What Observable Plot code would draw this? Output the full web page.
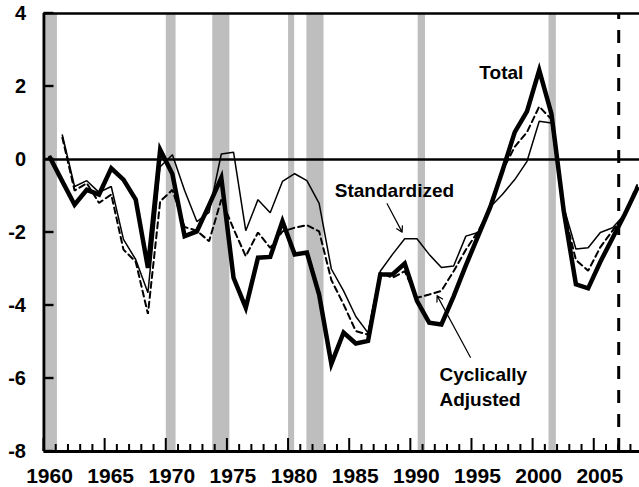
<!DOCTYPE html>
<html><head><meta charset="utf-8">
<script src="https://cdn.jsdelivr.net/npm/d3@7"></script>
<script src="https://cdn.jsdelivr.net/npm/@observablehq/plot@0.6"></script>
<style>body{margin:0;background:#fff}</style>
</head><body><div id="chart"></div>
<script>
const years = d3.range(1960, 2009);
const total = [0.05,-0.6,-1.24,-0.83,-0.96,-0.24,-0.55,-1.1,-2.97,0.27,
  -0.4,-2.1,-1.97,-1.25,-0.5,-3.24,-4.06,-2.69,-2.67,-1.69,
  -2.6,-2.55,-3.7,-5.6,-4.74,-5.04,-4.97,-3.15,-3.15,-2.85,
  -3.87,-4.47,-4.52,-3.75,-2.9,-2.1,-1.3,-0.3,0.75,1.32,
  2.45,1.25,-1.4,-3.42,-3.53,-2.8,-2.15,-1.5,-0.8];
const standardized = [null,0.67,-0.74,-0.58,-0.9,-0.74,-2.19,-2.74,-3.65,-0.2,
  0.13,-0.85,-1.7,-1.45,0.15,0.2,-1.95,-1.1,-1.46,-0.6,
  -0.39,-0.58,-1.2,-3.0,-3.6,-4.3,-4.75,-3.06,-2.6,-2.17,
  -2.17,-2.6,-2.96,-2.92,-2.1,-2.0,-1.3,-0.95,-0.55,-0.05,
  1.05,1.0,-1.3,-2.45,-2.42,-2.0,-1.87,-1.5,-0.75];
const cyclicallyAdjusted = [null,0.6,-0.85,-0.65,-1.19,-0.96,-2.47,-2.8,-4.23,-1.15,
  -0.83,-1.85,-1.95,-2.24,-1.1,-1.9,-2.65,-2.0,-2.42,-1.97,
  -1.87,-1.8,-1.97,-3.3,-3.97,-4.7,-4.8,-3.1,-3.24,-3.06,
  -3.79,-3.7,-3.6,-3.06,-2.47,-1.97,-1.33,-0.3,0.35,0.75,
  1.45,1.1,-1.4,-2.75,-3.05,-2.4,-1.95,-1.5,-0.7];
const recessionStart = [1960.2, 1970.0, 1973.8, 1980.0, 1981.5, 1990.6, 2001.3];
const recessionEnd   = [1961.1, 1970.8, 1975.2, 1980.5, 1982.9, 1991.2, 2001.9];
const yTicks = [-8, -6, -4, -2, 0, 2, 4];
const xTickLabels = [1960, 1965, 1970, 1975, 1980, 1985, 1990, 1995, 2000, 2005];
const majorTickYears = xTickLabels;
const minorTickYears = d3.range(1960, 2009).filter(y => y % 5 !== 0);
const projectionStart = 2007;
const seriesLabels = ["Total", "Standardized", "Cyclically\nAdjusted"];

const rows = years.map((year, i) => ({
  year, total: total[i], standardized: standardized[i], cyclicallyAdjusted: cyclicallyAdjusted[i]
}));
const recessions = recessionStart.map((s, i) => ({start: s, end: recessionEnd[i]}));
const mid = d => d.year + 0.5;
const font = "'Liberation Sans', Arial, sans-serif";

const W = 639, H = 487, mL = 43.5, mR = 0, mT = 13, mB = 36;
const xDomain = [1960, 2008.7], yDomain = [-8, 4];
const plotW = W - mL - mR, plotH = H - mT - mB;
// pixel sizes converted to data units (for tick marks drawn as thin rects)
const yPerPx = (yDomain[1] - yDomain[0]) / plotH;
const xPerPx = (xDomain[1] - xDomain[0]) / plotW;

const chart = Plot.plot({
  width: W, height: H,
  marginLeft: mL, marginRight: mR, marginTop: mT, marginBottom: mB,
  style: {fontFamily: font, background: "#fff"},
  x: {domain: xDomain},
  y: {domain: yDomain},
  marks: [
    Plot.rect(recessions, {x1: "start", x2: "end", y1: yDomain[0], y2: yDomain[1], fill: "#bebebe"}),
    Plot.ruleY([0], {stroke: "black", strokeWidth: 2.3}),
    Plot.ruleY([yDomain[1]], {stroke: "black", strokeWidth: 2.3}),
    Plot.ruleX([projectionStart], {y1: yDomain[0], y2: yDomain[1], stroke: "black", strokeWidth: 3, strokeDasharray: "13,11"}),
    Plot.line(rows, {x: mid, y: "standardized", stroke: "black", strokeWidth: 1.5, strokeLinejoin: "miter"}),
    Plot.line(rows, {x: mid, y: "cyclicallyAdjusted", stroke: "black", strokeWidth: 2, strokeDasharray: "6,4", strokeLinejoin: "miter"}),
    Plot.line(rows, {x: mid, y: "total", stroke: "black", strokeWidth: 4.5, strokeLinejoin: "miter", strokeMiterlimit: 6}),
    Plot.ruleX([xDomain[0]], {y1: yDomain[0], y2: yDomain[1], stroke: "black", strokeWidth: 3}),
    Plot.ruleY([yDomain[0]], {stroke: "black", strokeWidth: 3}),
    // tick marks as thin rectangles
    Plot.rect(yTicks, {x1: xDomain[0], x2: xDomain[0] + 10 * xPerPx, y1: d => d - 1.2 * yPerPx, y2: d => d + 1.2 * yPerPx, fill: "black"}),
    Plot.rect(minorTickYears, {x1: d => d - 1 * xPerPx, x2: d => d + 1 * xPerPx, y1: yDomain[0], y2: yDomain[0] + 7 * yPerPx, fill: "black"}),
    Plot.rect(majorTickYears, {x1: d => d - 1 * xPerPx, x2: d => d + 1 * xPerPx, y1: yDomain[0], y2: yDomain[0] + 13 * yPerPx, fill: "black"}),
    Plot.axisY({ticks: yTicks, tickSize: 0, tickPadding: 18, tickFormat: d => String(d), fontSize: 20, fontWeight: "bold", label: null}),
    Plot.axisX({ticks: xTickLabels, tickSize: 0, tickPadding: 17, dx: 5.5, tickFormat: d => String(d), fontSize: 21, fontWeight: "bold", label: null}),
    Plot.text([seriesLabels[0]], {x: 1997.4, y: 2.38, text: d => d, fontSize: 19, fontWeight: "bold"}),
    Plot.text([seriesLabels[1]], {x: 1988.66, y: -0.85, text: d => d, fontSize: 19, fontWeight: "bold"}),
    Plot.text([seriesLabels[2]], {x: 1992.34, y: -6.18, text: d => d, textAnchor: "start", lineHeight: 1.32, fontSize: 19, fontWeight: "bold"}),
    Plot.arrow([0], {x1: 1988.06, y1: -1.21, x2: 1989.29, y2: -1.99, stroke: "black", strokeWidth: 1.2, headLength: 8}),
    Plot.arrow([0], {x1: 1994.87, y1: -5.42, x2: 1992.15, y2: -3.73, stroke: "black", strokeWidth: 1.2, headLength: 8})
  ]
});
document.getElementById("chart").append(chart);
</script>
</body></html>
